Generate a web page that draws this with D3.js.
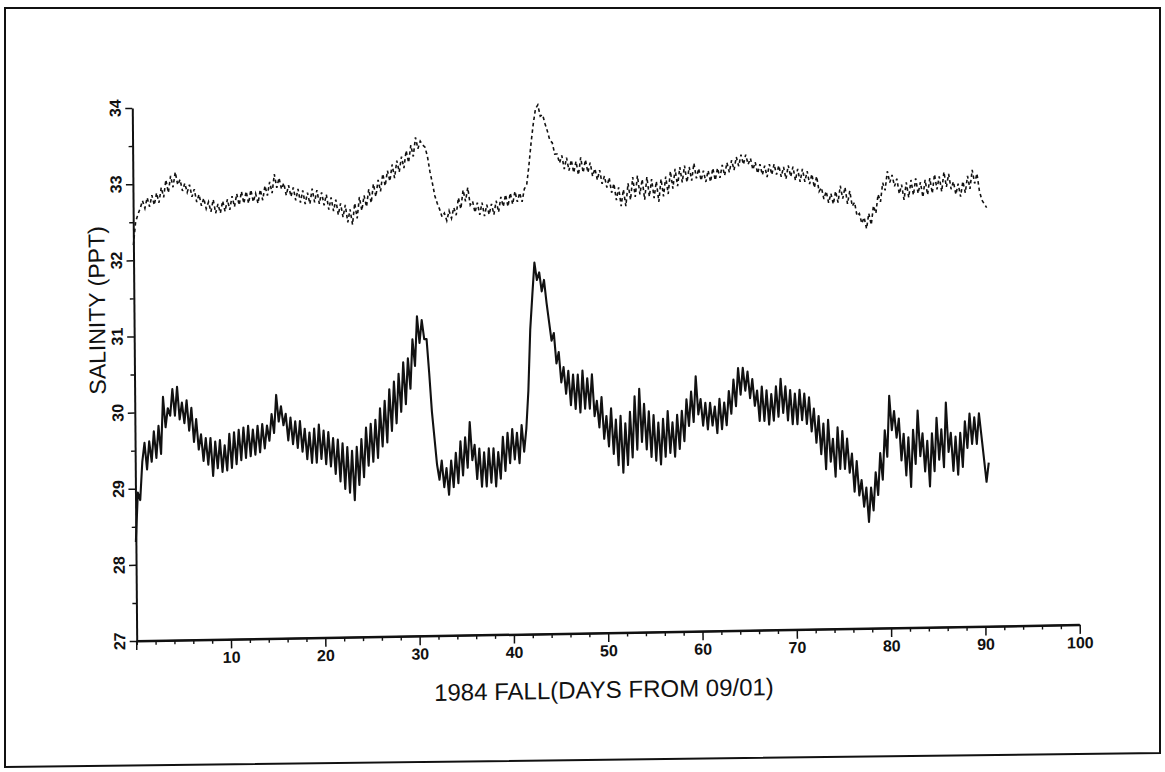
<!DOCTYPE html>
<html><head><meta charset="utf-8">
<script src="https://cdn.jsdelivr.net/npm/d3@7"></script>
<style>
body{margin:0;background:#fff;}
svg{display:block;}
text{font-family:"Liberation Sans",Arial,Helvetica,sans-serif;fill:#111;}
</style>
</head><body>
<svg id="c" width="1165" height="772"></svg>
<script>
// ---- data ----
const xMajorTicks = [10,20,30,40,50,60,70,80,90,100];
const xMinorTicks = [0,2,4,6,8,12,14,16,18,22,24,26,28,32,34,36,38,42,44,46,48,52,54,56,58,62,64,66,68,72,74,76,78,82,84,86,88,92,94,96,98];
const yMajorTicks = [27,28,29,30,31,32,33,34];
const yMinorTicks = [27.5,28.5,29.5,30.5,31.5,32.5,33.5];
const xTitle = "1984 FALL(DAYS FROM 09/01)";
const yTitle = "SALINITY (PPT)";
const sampleStep = 0.25; // days between samples

// dashed series (upper)
const upperSeries = [
32.2,32.5,32.6,32.68, 32.78,32.68,32.82,32.7, 32.85,32.72,32.88,32.75, 32.95,32.82,33.05,32.88,
33.1,32.95,33.15,32.98, 33.05,32.9,33.0,32.88, 32.98,32.82,32.92,32.75, 32.85,32.7,32.8,32.66,
32.75,32.62,32.78,32.6, 32.72,32.6,32.76,32.62, 32.78,32.64,32.82,32.68, 32.85,32.7,32.88,32.72,
32.88,32.72,32.9,32.74, 32.85,32.72,32.9,32.76, 32.95,32.82,33.0,32.85, 33.1,32.92,33.05,32.9,
32.98,32.82,32.95,32.8, 32.92,32.75,32.9,32.72, 32.88,32.7,32.85,32.7, 32.9,32.72,32.88,32.7,
32.85,32.68,32.82,32.62, 32.78,32.6,32.75,32.55, 32.7,32.52,32.68,32.45, 32.62,32.42,32.7,32.5,
32.78,32.6,32.8,32.65, 32.88,32.7,32.95,32.78, 33.0,32.85,33.08,32.92, 33.12,32.98,33.2,33.02,
33.25,33.1,33.3,33.15, 33.38,33.22,33.45,33.3, 33.55,33.4,33.5,33.45, 33.42,33.3,33.1,32.95,
32.78,32.68,32.6,32.5, 32.55,32.45,32.58,32.48, 32.62,32.52,32.75,32.6, 32.85,32.7,32.88,32.65,
32.7,32.55,32.68,32.52, 32.68,32.5,32.65,32.52, 32.66,32.52,32.7,32.55, 32.75,32.62,32.78,32.62,
32.8,32.65,32.82,32.68, 32.8,32.68,32.85,32.9, 33.15,33.45,33.7,33.9, 33.95,33.8,33.82,33.7,
33.6,33.48,33.45,33.3, 33.3,33.18,33.28,33.1, 33.25,33.08,33.22,33.05, 33.2,33.02,33.25,33.05,
33.22,33.05,33.18,33.0, 33.1,32.95,33.08,32.9, 33.0,32.85,32.98,32.78, 32.9,32.68,32.85,32.6,
32.82,32.6,32.9,32.68, 32.98,32.72,33.0,32.75, 32.95,32.68,32.98,32.72, 32.95,32.7,32.92,32.65,
32.95,32.72,32.98,32.75, 33.05,32.82,33.08,32.85, 33.1,32.9,33.12,32.9, 33.1,32.92,33.15,32.95,
33.08,32.92,33.05,32.9, 33.05,32.9,33.08,32.92, 33.08,32.95,33.12,32.98, 33.15,33.02,33.18,33.05,
33.22,33.1,33.25,33.12, 33.25,33.12,33.2,33.05, 33.15,33.0,33.12,32.98, 33.1,32.95,33.12,32.98,
33.12,32.98,33.1,32.95, 33.08,32.92,33.1,32.95, 33.08,32.9,33.05,32.88, 33.05,32.88,33.02,32.85,
32.98,32.8,32.95,32.75, 32.8,32.65,32.75,32.6, 32.72,32.58,32.75,32.6, 32.82,32.65,32.8,32.58,
32.75,32.55,32.6,32.42, 32.45,32.32,32.4,32.25, 32.45,32.3,32.55,32.45, 32.7,32.6,32.85,32.75,
33.0,32.85,32.95,32.8, 32.9,32.7,32.82,32.62, 32.85,32.65,32.88,32.68, 32.9,32.7,32.85,32.65,
32.88,32.68,32.9,32.7, 32.95,32.75,32.92,32.72, 32.98,32.78,32.95,32.75, 32.85,32.68,32.82,32.65,
32.85,32.7,32.92,32.75, 33.0,32.82,32.95,32.72, 32.6,32.55,32.5
];

// solid series (lower)
const lowerSeries = [
28.3,28.95,28.85,29.35, 29.6,29.25,29.62,29.35, 29.75,29.4,29.82,29.45, 30.2,29.8,30.05,29.95,
30.3,29.95,30.33,29.9, 30.12,29.85,30.15,29.75, 30.05,29.6,29.9,29.5, 29.7,29.35,29.65,29.3,
29.65,29.15,29.6,29.25, 29.62,29.2,29.55,29.22, 29.7,29.25,29.72,29.3, 29.75,29.35,29.78,29.38,
29.8,29.4,29.75,29.42, 29.8,29.45,29.82,29.5, 29.8,29.6,29.95,29.7, 30.2,29.85,30.05,29.8,
29.95,29.6,29.9,29.55, 29.85,29.5,29.85,29.45, 29.75,29.35,29.7,29.3, 29.75,29.3,29.8,29.35,
29.72,29.28,29.7,29.25, 29.62,29.15,29.6,29.05, 29.55,28.95,29.5,28.9, 29.45,28.8,29.5,29.0,
29.6,29.1,29.75,29.25, 29.8,29.3,29.85,29.35, 30.0,29.5,30.1,29.55, 30.25,29.7,30.35,29.8,
30.45,29.95,30.6,30.05, 30.65,30.25,30.9,30.55, 31.2,30.85,31.15,30.9, 30.9,30.45,29.95,29.6,
29.25,29.05,29.3,28.95, 29.2,28.85,29.3,28.95, 29.4,29.0,29.55,29.1, 29.6,29.2,29.8,29.3,
29.5,29.05,29.45,28.95, 29.4,28.95,29.45,29.0, 29.45,28.95,29.4,29.05, 29.6,29.15,29.65,29.25,
29.7,29.3,29.65,29.25, 29.75,29.4,29.7,30.2, 31.0,31.45,31.88,31.65, 31.75,31.5,31.65,31.35,
31.1,30.85,30.95,30.55, 30.7,30.3,30.5,30.15, 30.45,30.0,30.4,29.95, 30.4,29.9,30.45,29.95,
30.35,29.95,30.4,29.85, 30.05,29.7,30.1,29.55, 29.85,29.45,29.95,29.35, 29.8,29.2,29.85,29.1,
29.75,29.2,29.9,29.3, 30.1,29.4,30.2,29.5, 30.0,29.4,29.9,29.3, 29.85,29.25,29.75,29.2,
29.8,29.3,29.9,29.35, 29.75,29.3,29.85,29.4, 29.9,29.5,30.05,29.7, 30.15,29.75,30.35,29.85,
30.05,29.7,30.0,29.65, 30.0,29.7,29.95,29.6, 30.05,29.65,30.0,29.7, 30.15,29.85,30.3,29.95,
30.45,30.1,30.45,30.15, 30.4,30.05,30.3,29.95, 30.15,29.75,30.2,29.75, 30.15,29.7,30.1,29.75,
30.2,29.8,30.3,29.85, 30.2,29.75,30.15,29.7, 30.1,29.7,30.15,29.75, 30.1,29.7,30.05,29.6,
29.9,29.45,29.8,29.3, 29.7,29.1,29.75,29.2, 29.5,29.0,29.65,29.1, 29.6,29.1,29.5,29.05,
29.3,28.8,29.2,28.75, 28.95,28.6,28.85,28.4, 28.85,28.55,29.05,28.75, 29.3,28.95,29.6,29.25,
30.05,29.6,29.85,29.5, 29.75,29.2,29.55,29.0, 29.5,28.85,29.6,29.15, 29.85,29.25,29.55,29.05,
29.45,28.85,29.55,29.05, 29.75,29.2,29.6,29.1, 29.95,29.3,29.55,29.05, 29.5,29.0,29.55,29.1,
29.7,29.35,29.8,29.4, 29.75,29.4,29.8,29.5, 29.2,28.9,29.15
];

// ---- drawing ----
const svg = d3.select("#c");

// page frame (scanned border)
svg.append("path")
  .attr("d","M5,8 L1160,8 L1160,753 L5,767 Z")
  .attr("fill","none").attr("stroke","#111").attr("stroke-width",2);

// plot group, slightly skewed like the scan
const g = svg.append("g").attr("transform","matrix(1,-0.0171,0.0083,1,136.7,641)");

const x = d3.scaleLinear().domain([0,100]).range([0,943]);
const y = d3.scaleLinear().domain([27,34]).range([0,-533]);

// x axis minor ticks
g.append("g").call(d3.axisBottom(x).tickValues(xMinorTicks).tickSize(4).tickSizeOuter(0).tickFormat(""))
  .call(s=>s.select(".domain").remove())
  .selectAll("line").attr("stroke","#111").attr("stroke-width",1.4);
// x axis major
const xa = g.append("g").call(d3.axisBottom(x).tickValues(xMajorTicks).tickSize(9).tickSizeOuter(0).tickPadding(3));
xa.select(".domain").attr("stroke","#111").attr("stroke-width",2);
xa.selectAll("line").attr("stroke","#111").attr("stroke-width",1.5);
xa.selectAll("text").attr("font-size",16).attr("font-weight","bold")
  .attr("font-family","'Liberation Sans',Arial,sans-serif").attr("fill","#111");
g.append("line").attr("x1",x(0)).attr("x2",x(100)).attr("y1",0).attr("y2",0)
  .attr("stroke","#111").attr("stroke-width",2);
g.append("line").attr("x1",0).attr("x2",0).attr("y1",0).attr("y2",9)
  .attr("stroke","#111").attr("stroke-width",1.5);

// y axis
g.append("g").call(d3.axisLeft(y).tickValues(yMinorTicks).tickSize(4).tickSizeOuter(0).tickFormat(""))
  .call(s=>s.select(".domain").remove())
  .selectAll("line").attr("stroke","#111").attr("stroke-width",1.4);
const ya = g.append("g").call(d3.axisLeft(y).tickValues(yMajorTicks).tickSize(7).tickSizeOuter(0).tickFormat(""));
ya.select(".domain").attr("stroke","#111").attr("stroke-width",2);
ya.selectAll("line").attr("stroke","#111").attr("stroke-width",1.5);
g.selectAll(".ylab").data(yMajorTicks).join("text")
  .attr("class","ylab")
  .attr("transform",d=>`translate(-11.5,${y(d)}) rotate(-90)`)
  .attr("text-anchor","middle")
  .attr("font-size",16).attr("font-weight","bold")
  .text(d=>d);

// titles
g.append("text").attr("x",x(49.5)).attr("y",65)
  .attr("text-anchor","middle").attr("font-size",24).text(xTitle);
g.append("text").attr("transform",`translate(-29,${y(31.35)}) rotate(-90)`)
  .attr("text-anchor","middle").attr("font-size",23).text(yTitle);

// series
const line = d3.line().x((d,i)=>x(i*sampleStep)).y(d=>y(d));
g.append("path").datum(lowerSeries).attr("d",line)
  .attr("fill","none").attr("stroke","#111").attr("stroke-width",2.1).attr("stroke-linejoin","round");
g.append("path").datum(upperSeries).attr("d",line)
  .attr("fill","none").attr("stroke","#111").attr("stroke-width",1.6)
  .attr("stroke-dasharray","3.5,3");
</script>
</body></html>
